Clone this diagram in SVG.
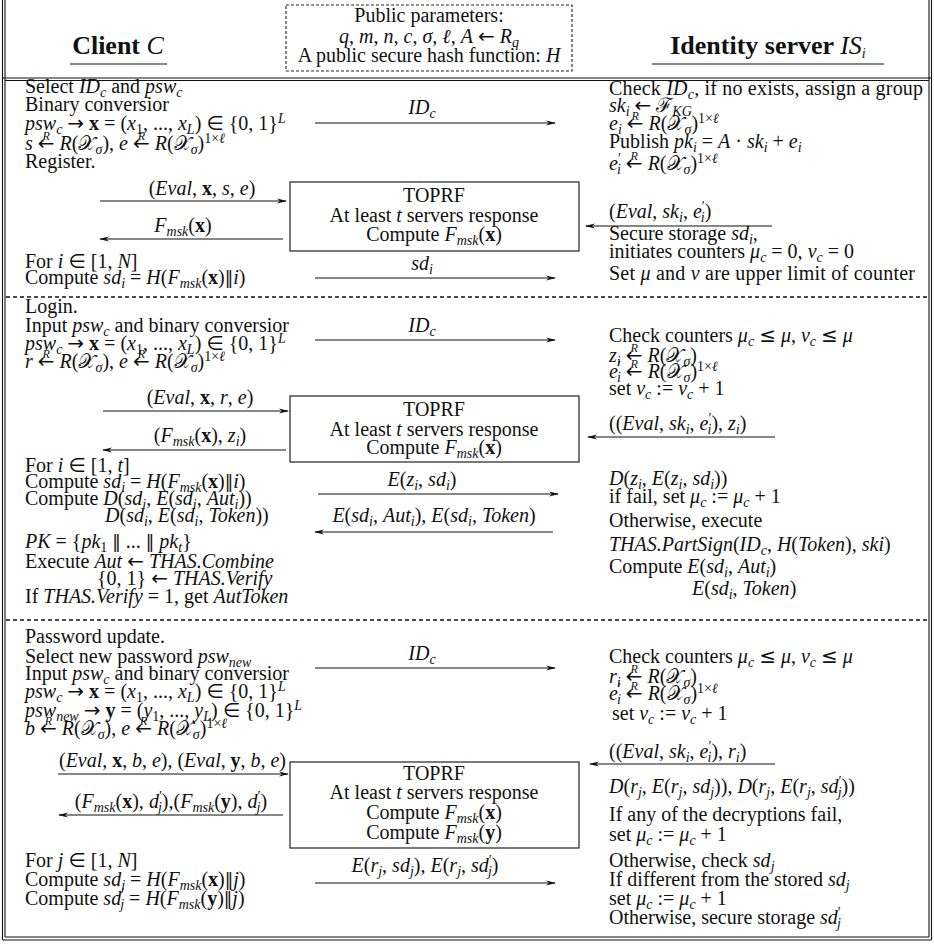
<svg xmlns="http://www.w3.org/2000/svg" width="934" height="947" viewBox="0 0 934 947">
<defs>
<style>
text{font-family:"Liberation Serif","Times New Roman",serif;font-size:20px;fill:#111}
.i{font-style:italic}
.b{font-weight:bold}
.a{font-family:"DejaVu Sans",sans-serif;font-style:normal;font-size:20px}
.n{font-family:"DejaVu Sans",sans-serif;font-style:normal;font-size:17px}
.s{font-size:14px;baseline-shift:-4px}
.p{font-size:14px;baseline-shift:7px}
.r{font-size:12px;font-style:italic;baseline-shift:10px}
.hd{font-size:26px;font-weight:bold}
.m{text-anchor:middle}
.fr{stroke:#111;stroke-width:1.1;fill:none}
.sep{stroke:#111;stroke-width:1.4;stroke-dasharray:4 3}
.bx{fill:none;stroke:#222;stroke-width:1.2}
.pb{fill:none;stroke:#222;stroke-width:1.1;stroke-dasharray:3 2}
.ar{stroke:#111;stroke-width:1.2;marker-end:url(#ah)}
</style>
<marker id="ah" viewBox="0 0 10 6" refX="9" refY="3" markerWidth="10" markerHeight="6" markerUnits="userSpaceOnUse" orient="auto"><path d="M0,0.5 L10,3 L0,5.5 L3,3 z" fill="#111"/></marker>
</defs>
<rect width="934" height="947" fill="#fff"/>

<g id="frame">
<line class="fr" x1="2.5" y1="0" x2="2.5" y2="940"/>
<line class="fr" x1="5" y1="0" x2="5" y2="937"/>
<line class="fr" x1="931.5" y1="0" x2="931.5" y2="940"/>
<line class="fr" x1="929" y1="0" x2="929" y2="937"/>
<line class="fr" x1="2.5" y1="78" x2="931.5" y2="78"/>
<line class="fr" x1="5" y1="80.5" x2="929" y2="80.5"/>
<line class="fr" x1="5" y1="937" x2="929" y2="937"/>
<line class="fr" x1="2.5" y1="940" x2="931.5" y2="940"/>
<line class="sep" x1="6" y1="297" x2="928" y2="297"/>
<line class="sep" x1="6" y1="620" x2="928" y2="620"/>
</g>

<g id="client-header">
<text class="hd m" x="118" y="54">Client <tspan class="i" font-weight="normal">C</tspan></text>
<line class="fr" x1="70" y1="64" x2="167" y2="64" stroke-width="1.4"/>
</g>
<g id="public-parameters">
<rect class="pb" x="286" y="5" width="286" height="66"/>
<text class="m" x="429" y="22">Public parameters:</text>
<text class="m" x="429" y="43"><tspan class="i">q</tspan>, <tspan class="i">m</tspan>, <tspan class="i">n</tspan>, <tspan class="i">c</tspan>, <tspan class="i">σ</tspan>, <tspan class="i">ℓ</tspan>, <tspan class="i">A</tspan> <tspan class="a">←</tspan> <tspan class="i">R</tspan><tspan class="s i">q</tspan></text>
<text class="m" x="429" y="62">A public secure hash function: <tspan class="i">H</tspan></text>
</g>
<g id="server-header">
<text class="hd m" x="768" y="54">Identity server <tspan class="i" font-weight="normal">IS</tspan><tspan class="s i" font-weight="normal">i</tspan></text>
<line class="fr" x1="652" y1="64" x2="884" y2="64" stroke-width="1.4"/>
</g>

<g id="s1-client">
<text x="25" y="93">Select <tspan class="i">ID</tspan><tspan class="s i">c</tspan> and <tspan class="i">psw</tspan><tspan class="s i">c</tspan></text>
<text x="25" y="111">Binary conversior</text>
<text x="25" y="130"><tspan class="i">psw</tspan><tspan class="s i">c</tspan> <tspan class="a">→</tspan> <tspan class="b">x</tspan> = (<tspan class="i">x</tspan><tspan class="s">1</tspan>, ..., <tspan class="i">x</tspan><tspan class="s i">L</tspan>) <tspan class="a">∈</tspan> {0, 1}<tspan class="p i">L</tspan></text>
<text x="25" y="150"><tspan class="i">s</tspan> <tspan class="a">←</tspan><tspan class="r" dx="-12">R</tspan><tspan dx="4.7"> </tspan><tspan class="i">R</tspan>(𝒳<tspan class="s i">σ</tspan>), <tspan class="i">e</tspan> <tspan class="a">←</tspan><tspan class="r" dx="-12">R</tspan><tspan dx="4.7"> </tspan><tspan class="i">R</tspan>(𝒳<tspan class="s i">σ</tspan>)<tspan class="p">1×<tspan class="i">ℓ</tspan></tspan></text>
<text x="25" y="168">Register.</text>
<text x="25" y="268">For <tspan class="i">i</tspan> <tspan class="a">∈</tspan> [1, <tspan class="i">N</tspan>]</text>
<text x="25" y="284">Compute <tspan class="i">sd</tspan><tspan class="s i">i</tspan> = <tspan class="i">H</tspan>(<tspan class="i">F</tspan><tspan class="s i">msk</tspan>(<tspan class="b">x</tspan>)<tspan class="n">‖</tspan><tspan class="i">i</tspan>)</text>
</g>
<g id="toprf-1">
<rect class="bx" x="290" y="182" width="289" height="69"/>
<text class="m" x="434" y="202">TOPRF</text>
<text class="m" x="434" y="222">At least <tspan class="i">t</tspan> servers response</text>
<text class="m" x="434" y="241">Compute <tspan class="i">F</tspan><tspan class="s i">msk</tspan>(<tspan class="b">x</tspan>)</text>
</g>
<g id="s1-server">
<text x="609" y="95" textLength="314" lengthAdjust="spacing">Check <tspan class="i">ID</tspan><tspan class="s i">c</tspan>, if no exists, assign a group</text>
<text x="609" y="112"><tspan class="i">sk</tspan><tspan class="s i">i</tspan> <tspan class="a">←</tspan> ℱ<tspan class="s i">KG</tspan></text>
<text x="609" y="130"><tspan class="i">e</tspan><tspan class="s i">i</tspan> <tspan class="a">←</tspan><tspan class="r" dx="-12">R</tspan><tspan dx="4.7"> </tspan><tspan class="i">R</tspan>(𝒳<tspan class="s i">σ</tspan>)<tspan class="p">1×<tspan class="i">ℓ</tspan></tspan></text>
<text x="609" y="148">Publish <tspan class="i">pk</tspan><tspan class="s i">i</tspan> = <tspan class="i">A</tspan> · <tspan class="i">sk</tspan><tspan class="s i">i</tspan> + <tspan class="i">e</tspan><tspan class="s i">i</tspan></text>
<text x="609" y="170"><tspan class="i">e</tspan><tspan class="p">′</tspan><tspan class="s i" dx="-4">i</tspan> <tspan class="a">←</tspan><tspan class="r" dx="-12">R</tspan><tspan dx="4.7"> </tspan><tspan class="i">R</tspan>(𝒳<tspan class="s i">σ</tspan>)<tspan class="p">1×<tspan class="i">ℓ</tspan></tspan></text>
<text x="609" y="240">Secure storage <tspan class="i">sd</tspan><tspan class="s i">i</tspan>,</text>
<text x="609" y="258">initiates counters <tspan class="i">μ</tspan><tspan class="s i">c</tspan> = 0, <tspan class="i">ν</tspan><tspan class="s i">c</tspan> = 0</text>
<text x="609" y="280" textLength="306" lengthAdjust="spacing">Set <tspan class="i">μ</tspan> and <tspan class="i">ν</tspan> are upper limit of counter</text>
</g>

<g id="s2-client">
<text x="25" y="313">Login.</text>
<text x="25" y="332">Input <tspan class="i">psw</tspan><tspan class="s i">c</tspan> and binary conversior</text>
<text x="25" y="350"><tspan class="i">psw</tspan><tspan class="s i">c</tspan> <tspan class="a">→</tspan> <tspan class="b">x</tspan> = (<tspan class="i">x</tspan><tspan class="s">1</tspan>, ..., <tspan class="i">x</tspan><tspan class="s i">L</tspan>) <tspan class="a">∈</tspan> {0, 1}<tspan class="p i">L</tspan></text>
<text x="25" y="368"><tspan class="i">r</tspan> <tspan class="a">←</tspan><tspan class="r" dx="-12">R</tspan><tspan dx="4.7"> </tspan><tspan class="i">R</tspan>(𝒳<tspan class="s i">σ</tspan>), <tspan class="i">e</tspan> <tspan class="a">←</tspan><tspan class="r" dx="-12">R</tspan><tspan dx="4.7"> </tspan><tspan class="i">R</tspan>(𝒳<tspan class="s i">σ</tspan>)<tspan class="p">1×<tspan class="i">ℓ</tspan></tspan></text>
<text x="25" y="472">For <tspan class="i">i</tspan> <tspan class="a">∈</tspan> [1, <tspan class="i">t</tspan>]</text>
<text x="25" y="488">Compute <tspan class="i">sd</tspan><tspan class="s i">i</tspan> = <tspan class="i">H</tspan>(<tspan class="i">F</tspan><tspan class="s i">msk</tspan>(<tspan class="b">x</tspan>)<tspan class="n">‖</tspan><tspan class="i">i</tspan>)</text>
<text x="25" y="505">Compute <tspan class="i">D</tspan>(<tspan class="i">sd</tspan><tspan class="s i">i</tspan>, <tspan class="i">E</tspan>(<tspan class="i">sd</tspan><tspan class="s i">i</tspan>, <tspan class="i">Aut</tspan><tspan class="s i">i</tspan>))</text>
<text x="105" y="522"><tspan class="i">D</tspan>(<tspan class="i">sd</tspan><tspan class="s i">i</tspan>, <tspan class="i">E</tspan>(<tspan class="i">sd</tspan><tspan class="s i">i</tspan>, <tspan class="i">Token</tspan>))</text>
<text x="25" y="548"><tspan class="i">PK</tspan> = {<tspan class="i">pk</tspan><tspan class="s">1</tspan> <tspan class="n">‖</tspan> ... <tspan class="n">‖</tspan> <tspan class="i">pk</tspan><tspan class="s i">t</tspan>}</text>
<text x="25" y="568">Execute <tspan class="i">Aut</tspan> <tspan class="a">←</tspan> <tspan class="i">THAS.Combine</tspan></text>
<text x="97" y="585">{0, 1} <tspan class="a">←</tspan> <tspan class="i">THAS.Verify</tspan></text>
<text x="25" y="603">If <tspan class="i">THAS.Verify</tspan> = 1, get <tspan class="i">AutToken</tspan></text>
</g>
<g id="toprf-2">
<rect class="bx" x="290" y="396" width="289" height="66"/>
<text class="m" x="434" y="416">TOPRF</text>
<text class="m" x="434" y="436">At least <tspan class="i">t</tspan> servers response</text>
<text class="m" x="434" y="454">Compute <tspan class="i">F</tspan><tspan class="s i">msk</tspan>(<tspan class="b">x</tspan>)</text>
</g>
<g id="s2-server">
<text x="609" y="342">Check counters <tspan class="i">μ</tspan><tspan class="s i">c</tspan> <tspan class="a">≤</tspan> <tspan class="i">μ</tspan>, <tspan class="i">ν</tspan><tspan class="s i">c</tspan> <tspan class="a">≤</tspan> <tspan class="i">μ</tspan></text>
<text x="609" y="362"><tspan class="i">z</tspan><tspan class="s i">i</tspan> <tspan class="a">←</tspan><tspan class="r" dx="-12">R</tspan><tspan dx="4.7"> </tspan><tspan class="i">R</tspan>(𝒳<tspan class="s i">σ</tspan>)</text>
<text x="609" y="378"><tspan class="i">e</tspan><tspan class="p">′</tspan><tspan class="s i" dx="-4">i</tspan> <tspan class="a">←</tspan><tspan class="r" dx="-12">R</tspan><tspan dx="4.7"> </tspan><tspan class="i">R</tspan>(𝒳<tspan class="s i">σ</tspan>)<tspan class="p">1×<tspan class="i">ℓ</tspan></tspan></text>
<text x="609" y="395">set <tspan class="i">ν</tspan><tspan class="s i">c</tspan> := <tspan class="i">ν</tspan><tspan class="s i">c</tspan> + 1</text>
<text x="609" y="485"><tspan class="i">D</tspan>(<tspan class="i">z</tspan><tspan class="s i">i</tspan>, <tspan class="i">E</tspan>(<tspan class="i">z</tspan><tspan class="s i">i</tspan>, <tspan class="i">sd</tspan><tspan class="s i">i</tspan>))</text>
<text x="609" y="503">if fail, set <tspan class="i">μ</tspan><tspan class="s i">c</tspan> := <tspan class="i">μ</tspan><tspan class="s i">c</tspan> + 1</text>
<text x="609" y="527">Otherwise, execute</text>
<text x="609" y="551"><tspan class="i">THAS.PartSign</tspan>(<tspan class="i">ID</tspan><tspan class="s i">c</tspan>, <tspan class="i">H</tspan>(<tspan class="i">Token</tspan>), <tspan class="i">ski</tspan>)</text>
<text x="609" y="573">Compute <tspan class="i">E</tspan>(<tspan class="i">sd</tspan><tspan class="s i">i</tspan>, <tspan class="i">Aut</tspan><tspan class="s i">i</tspan>)</text>
<text x="692" y="595"><tspan class="i">E</tspan>(<tspan class="i">sd</tspan><tspan class="s i">i</tspan>, <tspan class="i">Token</tspan>)</text>
</g>

<g id="s3-client">
<text x="25" y="643">Password update.</text>
<text x="25" y="663">Select new password <tspan class="i">psw</tspan><tspan class="s i">new</tspan></text>
<text x="25" y="680">Input <tspan class="i">psw</tspan><tspan class="s i">c</tspan> and binary conversior</text>
<text x="25" y="698"><tspan class="i">psw</tspan><tspan class="s i">c</tspan> <tspan class="a">→</tspan> <tspan class="b">x</tspan> = (<tspan class="i">x</tspan><tspan class="s">1</tspan>, ..., <tspan class="i">x</tspan><tspan class="s i">L</tspan>) <tspan class="a">∈</tspan> {0, 1}<tspan class="p i">L</tspan></text>
<text x="25" y="717"><tspan class="i">psw</tspan><tspan class="s i">new</tspan> <tspan class="a">→</tspan> <tspan class="b">y</tspan> = (<tspan class="i">y</tspan><tspan class="s">1</tspan>, ..., <tspan class="i">y</tspan><tspan class="s i">L</tspan>) <tspan class="a">∈</tspan> {0, 1}<tspan class="p i">L</tspan></text>
<text x="25" y="735"><tspan class="i">b</tspan> <tspan class="a">←</tspan><tspan class="r" dx="-12">R</tspan><tspan dx="4.7"> </tspan><tspan class="i">R</tspan>(𝒳<tspan class="s i">σ</tspan>), <tspan class="i">e</tspan> <tspan class="a">←</tspan><tspan class="r" dx="-12">R</tspan><tspan dx="4.7"> </tspan><tspan class="i">R</tspan>(𝒳<tspan class="s i">σ</tspan>)<tspan class="p">1×<tspan class="i">ℓ</tspan></tspan></text>
<text x="25" y="867">For <tspan class="i">j</tspan> <tspan class="a">∈</tspan> [1, <tspan class="i">N</tspan>]</text>
<text x="25" y="886">Compute <tspan class="i">sd</tspan><tspan class="s i">j</tspan> = <tspan class="i">H</tspan>(<tspan class="i">F</tspan><tspan class="s i">msk</tspan>(<tspan class="b">x</tspan>)<tspan class="n">‖</tspan><tspan class="i">j</tspan>)</text>
<text x="25" y="905">Compute <tspan class="i">sd</tspan><tspan class="p">′</tspan><tspan class="s i" dx="-4">j</tspan> = <tspan class="i">H</tspan>(<tspan class="i">F</tspan><tspan class="s i">msk</tspan>(<tspan class="b">y</tspan>)<tspan class="n">‖</tspan><tspan class="i">j</tspan>)</text>
</g>
<g id="toprf-3">
<rect class="bx" x="290" y="762" width="289" height="86"/>
<text class="m" x="434" y="780">TOPRF</text>
<text class="m" x="434" y="799">At least <tspan class="i">t</tspan> servers response</text>
<text class="m" x="434" y="819">Compute <tspan class="i">F</tspan><tspan class="s i">msk</tspan>(<tspan class="b">x</tspan>)</text>
<text class="m" x="434" y="839">Compute <tspan class="i">F</tspan><tspan class="s i">msk</tspan>(<tspan class="b">y</tspan>)</text>
</g>
<g id="s3-server">
<text x="609" y="663">Check counters <tspan class="i">μ</tspan><tspan class="s i">c</tspan> <tspan class="a">≤</tspan> <tspan class="i">μ</tspan>, <tspan class="i">ν</tspan><tspan class="s i">c</tspan> <tspan class="a">≤</tspan> <tspan class="i">μ</tspan></text>
<text x="609" y="683"><tspan class="i">r</tspan><tspan class="s i">i</tspan> <tspan class="a">←</tspan><tspan class="r" dx="-12">R</tspan><tspan dx="4.7"> </tspan><tspan class="i">R</tspan>(𝒳<tspan class="s i">σ</tspan>)</text>
<text x="609" y="700"><tspan class="i">e</tspan><tspan class="p">′</tspan><tspan class="s i" dx="-4">i</tspan> <tspan class="a">←</tspan><tspan class="r" dx="-12">R</tspan><tspan dx="4.7"> </tspan><tspan class="i">R</tspan>(𝒳<tspan class="s i">σ</tspan>)<tspan class="p">1×<tspan class="i">ℓ</tspan></tspan></text>
<text x="612" y="720">set <tspan class="i">ν</tspan><tspan class="s i">c</tspan> := <tspan class="i">ν</tspan><tspan class="s i">c</tspan> + 1</text>
<text x="609" y="793"><tspan class="i">D</tspan>(<tspan class="i">r</tspan><tspan class="s i">j</tspan>, <tspan class="i">E</tspan>(<tspan class="i">r</tspan><tspan class="s i">j</tspan>, <tspan class="i">sd</tspan><tspan class="s i">j</tspan>)), <tspan class="i">D</tspan>(<tspan class="i">r</tspan><tspan class="s i">j</tspan>, <tspan class="i">E</tspan>(<tspan class="i">r</tspan><tspan class="s i">j</tspan>, <tspan class="i">sd</tspan><tspan class="p">′</tspan><tspan class="s i" dx="-4">j</tspan>))</text>
<text x="609" y="821">If any of the decryptions fail,</text>
<text x="609" y="841">set <tspan class="i">μ</tspan><tspan class="s i">c</tspan> := <tspan class="i">μ</tspan><tspan class="s i">c</tspan> + 1</text>
<text x="609" y="867">Otherwise, check <tspan class="i">sd</tspan><tspan class="s i">j</tspan></text>
<text x="609" y="886">If different from the stored <tspan class="i">sd</tspan><tspan class="s i">j</tspan></text>
<text x="609" y="905">set <tspan class="i">μ</tspan><tspan class="s i">c</tspan> := <tspan class="i">μ</tspan><tspan class="s i">c</tspan> + 1</text>
<text x="609" y="924">Otherwise, secure storage <tspan class="i">sd</tspan><tspan class="p">′</tspan><tspan class="s i" dx="-4">j</tspan></text>
</g>

<g id="connectors">
<line class="ar" x1="315" y1="123" x2="555" y2="123"/>
<line class="ar" x1="100" y1="201" x2="286" y2="201"/>
<line class="ar" x1="283" y1="239" x2="100" y2="239"/>
<line class="ar" x1="772" y1="226" x2="586" y2="226"/>
<line class="ar" x1="315" y1="278" x2="555" y2="278"/>
<line class="ar" x1="315" y1="340" x2="555" y2="340"/>
<line class="ar" x1="103" y1="411" x2="288" y2="411"/>
<line class="ar" x1="286" y1="450" x2="103" y2="450"/>
<line class="ar" x1="775" y1="437" x2="588" y2="437"/>
<line class="ar" x1="318" y1="494" x2="558" y2="494"/>
<line class="ar" x1="553" y1="532" x2="315" y2="532"/>
<line class="ar" x1="315" y1="668" x2="555" y2="668"/>
<line class="ar" x1="58" y1="774" x2="288" y2="774"/>
<line class="ar" x1="283" y1="815" x2="59" y2="815"/>
<line class="ar" x1="775" y1="764" x2="590" y2="764"/>
<line class="ar" x1="315" y1="883" x2="555" y2="883"/>
</g>
<g id="connector-labels">
<text class="m" x="422" y="114"><tspan class="i">ID</tspan><tspan class="s i">c</tspan></text>
<text class="m" x="202" y="195">(<tspan class="i">Eval</tspan>, <tspan class="b">x</tspan>, <tspan class="i">s</tspan>, <tspan class="i">e</tspan>)</text>
<text class="m" x="183" y="232"><tspan class="i">F</tspan><tspan class="s i">msk</tspan>(<tspan class="b">x</tspan>)</text>
<text x="609" y="218">(<tspan class="i">Eval</tspan>, <tspan class="i">sk</tspan><tspan class="s i">i</tspan>, <tspan class="i">e</tspan><tspan class="p">′</tspan><tspan class="s i" dx="-4">i</tspan>)</text>
<text class="m" x="422" y="270"><tspan class="i">sd</tspan><tspan class="s i">i</tspan></text>
<text class="m" x="422" y="332"><tspan class="i">ID</tspan><tspan class="s i">c</tspan></text>
<text class="m" x="200" y="404">(<tspan class="i">Eval</tspan>, <tspan class="b">x</tspan>, <tspan class="i">r</tspan>, <tspan class="i">e</tspan>)</text>
<text class="m" x="200" y="442">(<tspan class="i">F</tspan><tspan class="s i">msk</tspan>(<tspan class="b">x</tspan>), <tspan class="i">z</tspan><tspan class="s i">i</tspan>)</text>
<text x="609" y="430">((<tspan class="i">Eval</tspan>, <tspan class="i">sk</tspan><tspan class="s i">i</tspan>, <tspan class="i">e</tspan><tspan class="p">′</tspan><tspan class="s i" dx="-4">i</tspan>), <tspan class="i">z</tspan><tspan class="s i">i</tspan>)</text>
<text class="m" x="422" y="486"><tspan class="i">E</tspan>(<tspan class="i">z</tspan><tspan class="s i">i</tspan>, <tspan class="i">sd</tspan><tspan class="s i">i</tspan>)</text>
<text class="m" x="434" y="522"><tspan class="i">E</tspan>(<tspan class="i">sd</tspan><tspan class="s i">i</tspan>, <tspan class="i">Aut</tspan><tspan class="s i">i</tspan>), <tspan class="i">E</tspan>(<tspan class="i">sd</tspan><tspan class="s i">i</tspan>, <tspan class="i">Token</tspan>)</text>
<text class="m" x="422" y="660"><tspan class="i">ID</tspan><tspan class="s i">c</tspan></text>
<text x="59" y="767" textLength="227" lengthAdjust="spacing">(<tspan class="i">Eval</tspan>, <tspan class="b">x</tspan>, <tspan class="i">b</tspan>, <tspan class="i">e</tspan>), (<tspan class="i">Eval</tspan>, <tspan class="b">y</tspan>, <tspan class="i">b</tspan>, <tspan class="i">e</tspan>)</text>
<text class="m" x="171" y="808">(<tspan class="i">F</tspan><tspan class="s i">msk</tspan>(<tspan class="b">x</tspan>), <tspan class="i">d</tspan><tspan class="p">′</tspan><tspan class="s i" dx="-4">j</tspan>),(<tspan class="i">F</tspan><tspan class="s i">msk</tspan>(<tspan class="b">y</tspan>), <tspan class="i">d</tspan><tspan class="p">′</tspan><tspan class="s i" dx="-4">j</tspan>)</text>
<text x="609" y="758">((<tspan class="i">Eval</tspan>, <tspan class="i">sk</tspan><tspan class="s i">i</tspan>, <tspan class="i">e</tspan><tspan class="p">′</tspan><tspan class="s i" dx="-4">i</tspan>), <tspan class="i">r</tspan><tspan class="s i">i</tspan>)</text>
<text class="m" x="425" y="872"><tspan class="i">E</tspan>(<tspan class="i">r</tspan><tspan class="s i">j</tspan>, <tspan class="i">sd</tspan><tspan class="s i">j</tspan>), <tspan class="i">E</tspan>(<tspan class="i">r</tspan><tspan class="s i">j</tspan>, <tspan class="i">sd</tspan><tspan class="p">′</tspan><tspan class="s i" dx="-4">j</tspan>)</text>
</g>
</svg>
